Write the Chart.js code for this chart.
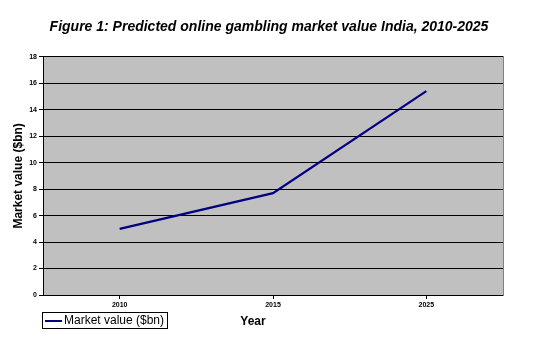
<!DOCTYPE html>
<html>
<head>
<meta charset="utf-8">
<script src="https://cdn.jsdelivr.net/npm/chart.js@4"></script>
<style>
  body { margin: 0; background: #fff; }
</style>
</head>
<body>
<canvas id="chart" width="538" height="351"></canvas>
<script>
let years = ['2010', '2015', '2025'];
let marketValue = [5, 7.7, 15.4];
let seriesName = 'Market value ($bn)';
let xTitle = 'Year';

// gray plot area + white page
let plotBg = {
    id: 'plotBg',
    beforeDraw(chart) {
        let c = chart.ctx, a = chart.chartArea;
        c.save();
        c.fillStyle = '#ffffff';
        c.fillRect(0, 0, chart.width, chart.height);
        c.fillStyle = '#c0c0c0';
        c.fillRect(a.left, a.top, a.right - a.left, a.bottom - a.top);
        c.restore();
    }
};

// boxed legend in the bottom-left corner, like the excel one,
// plus the x title which sits on the same row (not centred on the plot)
let boxLegend = {
    id: 'boxLegend',
    afterDraw(chart) {
        let c = chart.ctx;
        let ds = chart.data.datasets[0];
        c.save();
        c.strokeStyle = '#000';
        c.lineWidth = 1;
        c.strokeRect(42.5, 312.5, 125, 16);
        c.strokeStyle = ds.borderColor;
        c.lineWidth = 2;
        c.beginPath();
        c.moveTo(45, 321);
        c.lineTo(62, 321);
        c.stroke();
        c.fillStyle = '#000';
        c.font = '12px "Liberation Sans", Arial, sans-serif';
        c.textBaseline = 'middle';
        c.fillText(ds.label, 64, 321);
        c.font = 'bold 12px "Liberation Sans", Arial, sans-serif';
        c.textAlign = 'center';
        c.fillText(xTitle, 253, 322);
        c.restore();
    }
};

Chart.defaults.font.family = '"Liberation Sans", Arial, sans-serif';
Chart.defaults.color = '#000';

let ctx = document.getElementById('chart').getContext('2d');
let myChart = new Chart(ctx, {
    type: 'line',
    data: {
        labels: years,
        datasets: [{
            label: seriesName,
            data: marketValue,
            borderColor: '#000080',
            borderWidth: 2.2,
            pointRadius: 0,
            tension: 0
        }]
    },
    options: {
        responsive: false,
        animation: false,
        layout: { padding: 0 },
        plugins: {
            legend: { display: false },
            tooltip: { enabled: false },
            title: {
                display: true,
                text: 'Figure 1: Predicted online gambling market value India, 2010-2025',
                font: { size: 14, weight: 'bold', style: 'italic' },
                color: '#000',
                padding: { top: 19, bottom: 21 }
            }
        },
        scales: {
            x: {
                offset: true,
                grid: { drawOnChartArea: false, tickLength: 4, color: '#000' },
                border: { color: '#000' },
                ticks: { padding: 2, font: { size: 7, weight: 'bold' } },
                afterFit(s) { s.height = 56; }
            },
            y: {
                min: 0,
                max: 18,
                ticks: { stepSize: 2, padding: 2, font: { size: 7, weight: 'bold' } },
                grid: { color: '#000', tickLength: 4 },
                border: { color: '#000' },
                title: {
                    display: true,
                    text: 'Market value ($bn)',
                    font: { size: 12, weight: 'bold' },
                    padding: { top: 11, bottom: 0 }
                },
                afterFit(s) { s.width = 43; }
            },
            y2: {
                position: 'right',
                min: 0,
                max: 18,
                ticks: { display: false },
                grid: { drawOnChartArea: false, drawTicks: false },
                border: { color: '#808080' },
                afterFit(s) { s.width = 35; }
            }
        }
    },
    plugins: [plotBg, boxLegend]
});
</script>
</body>
</html>
